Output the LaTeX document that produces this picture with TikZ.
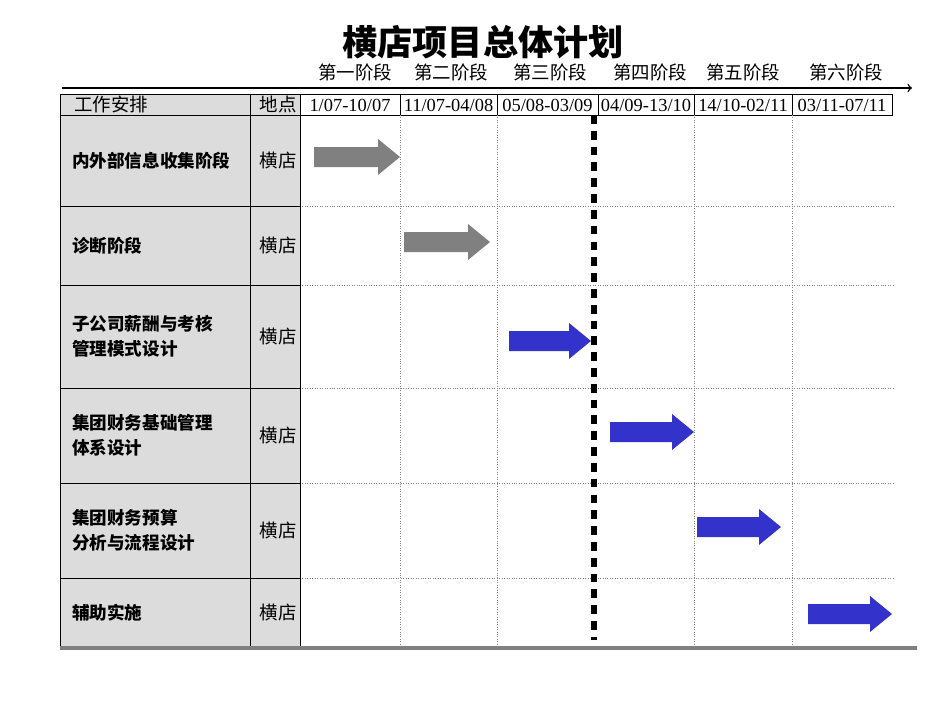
\documentclass[tikz,border=0pt]{standalone}
\usepackage{fontspec}
\setmainfont{Liberation Serif}
\newfontfamily\cjk{Noto Sans CJK SC}
\definecolor{cellgray}{RGB}{220,220,220}
\definecolor{gbarrow}{RGB}{128,128,128}
\definecolor{bbarrow}{RGB}{51,51,204}
\tikzset{
  stagetxt/.style={font=\cjk\fontsize{10.5}{10.5}\selectfont},
  rowtxt/.style={font=\cjk\bfseries\fontsize{10}{14}\selectfont, align=left, anchor=west},
  placetxt/.style={font=\cjk\fontsize{10.5}{10.5}\selectfont},
  grid/.style={densely dotted, gray, line width=0.4pt}
}
\begin{document}
\begin{tikzpicture}[x=0.02cm, y=-0.02cm]
  \useasboundingbox (0,0) rectangle (950,713);
  % titre
  \node[font=\cjk\bfseries\fontsize{20}{20}\selectfont] (title) at (483,42) {横店项目总体计划};
  % etapes
  \foreach \x/\t [count=\i] in {355/第一阶段, 451/第二阶段, 550/第三阶段, 650/第四阶段, 743/第五阶段, 846/第六阶段}
    \node[stagetxt] (st\i) at (\x,72) {\t};
  \coordinate (axs) at (62,88);
  \coordinate (axe) at (912,88);
  \draw[->, line width=0.8pt] (axs) -- (axe);
  % en-tete
  \fill[cellgray] (60,94) rectangle (300,115);
  \draw (60,94) rectangle (250,115);
  \draw (250,94) rectangle (300,115);
  \node[font=\cjk\fontsize{10.5}{10.5}\selectfont, anchor=west] (hwork) at (68,104.5) {工作安排};
  \node[placetxt] (hplace) at (278,104.5) {地点};
  \foreach \a/\b/\t [count=\i] in {300/400/{1/07-10/07}, 400/497/{11/07-04/08}, 497/598/{05/08-03/09}, 598/694/{04/09-13/10}, 694/792/{14/10-02/11}, 792/892/{03/11-07/11}}{
    \draw (\a,94) rectangle (\b,115);
    \node[font=\fontsize{10.5}{10.5}\selectfont] (d\i) at ({(\a+\b)/2},105) {\t};
  }
  % grille
  \foreach \x in {400,497,694,792}
    \draw[grid] (\x,115) -- (\x,648);
  \foreach \y in {206,285,388,483,578}
    \draw[grid] (300,\y) -- (895,\y);
  % lignes
  \foreach \a/\b/\t [count=\i] in {115/206/内外部信息收集阶段, 206/285/诊断阶段, 285/388/{子公司薪酬与考核\\管理模式设计}, 388/483/{集团财务基础管理\\体系设计}, 483/578/{集团财务预算\\分析与流程设计}, 578/648/辅助实施}{
    \draw[fill=cellgray] (60,\a) rectangle (250,\b);
    \draw[fill=cellgray] (250,\a) rectangle (300,\b);
    \node[rowtxt] (r\i) at (66,{(\a+\b)/2}) {\t};
    \node[placetxt] (p\i) at (278,{(\a+\b)/2}) {横店};
  }
  % jalon
  \coordinate (ms) at (594,115);
  \coordinate (me) at (594,640);
  \draw[line width=3pt, dash pattern=on 5pt off 4pt] (ms) -- (me);
  \coordinate (bls) at (60,648);
  \coordinate (ble) at (917,648);
  \draw[line width=2pt, gray] (bls) -- (ble);
  % fleches
  \foreach \x/\y/\c/\l [count=\i] in {314/157/gbarrow/64, 404/242/gbarrow/64, 509/341/bbarrow/60, 610/432/bbarrow/62, 697/527/bbarrow/62, 808/614/bbarrow/62}{
    \coordinate (a\i) at (\x,\y);
    \fill[\c] (a\i) ++(0,-10) -- ++(\l,0) -- ++(0,-8) -- ++(22,18) -- ++(-22,18) -- ++(0,-8) -- ++(-\l,0) -- cycle;
  }
\end{tikzpicture}
\end{document}
